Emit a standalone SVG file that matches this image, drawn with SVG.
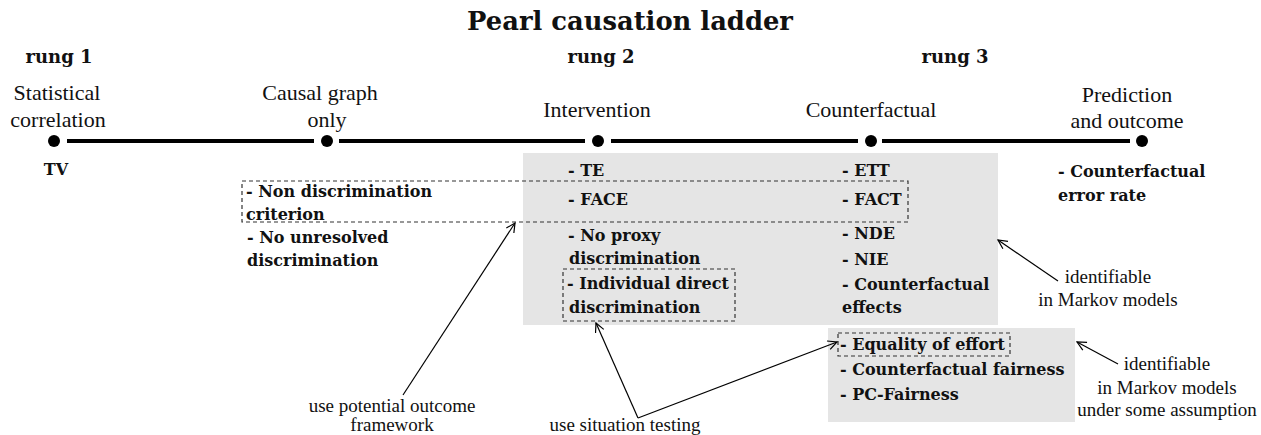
<svg xmlns="http://www.w3.org/2000/svg" width="1261" height="435" viewBox="0 0 1261 435">
<style>
.t{font-family:"Liberation Serif",serif;font-size:22px;fill:#111}
.a{font-family:"Liberation Serif",serif;font-size:19px;fill:#111}
.b{font-family:"DejaVu Serif",serif;font-weight:bold;font-size:16px;fill:#111}
.h{font-family:"DejaVu Serif",serif;font-weight:bold;font-size:18px;fill:#111}
.ln{stroke:#000;stroke-width:4;fill:none}
.dot{fill:#000}
.gray{fill:#e5e5e5}
.dash{fill:none;stroke:#333;stroke-width:1.2;stroke-dasharray:4 3}
.arr{stroke:#000;stroke-width:1.2;fill:none;marker-end:url(#ah)}
</style>
<defs>
<marker id="ah" markerWidth="12" markerHeight="12" refX="10" refY="5" orient="auto" markerUnits="userSpaceOnUse">
<path d="M1,0.5 L10,5 L1,9.5" fill="none" stroke="#000" stroke-width="1.2"/>
</marker>
</defs>
<rect width="1261" height="435" fill="#fff"/>
<text class="h" x="630" y="30" text-anchor="middle" style="font-size:25.8px">Pearl causation ladder</text>
<text class="h" x="59" y="63" text-anchor="middle">rung 1</text>
<text class="h" x="601" y="63" text-anchor="middle">rung 2</text>
<text class="h" x="955" y="63" text-anchor="middle">rung 3</text>
<g id="ladder">
<line class="ln" x1="67" y1="141" x2="314" y2="141"/>
<line class="ln" x1="339" y1="141" x2="585" y2="141"/>
<line class="ln" x1="611" y1="141" x2="858" y2="141"/>
<line class="ln" x1="882" y1="141" x2="1130" y2="141"/>
</g>
<g id="n-statistical">
<circle class="dot" cx="54" cy="141" r="6"/>
<text class="t" x="57" y="100" text-anchor="middle">Statistical</text>
<text class="t" x="58" y="127" text-anchor="middle">correlation</text>
<text class="b" x="56" y="175" text-anchor="middle">TV</text>
</g>
<g id="n-causal">
<circle class="dot" cx="327" cy="141" r="6"/>
<text class="t" x="320" y="100" text-anchor="middle">Causal graph</text>
<text class="t" x="327" y="127" text-anchor="middle">only</text>
<text class="b" x="247" y="243">- No unresolved</text>
<text class="b" x="247" y="266">discrimination</text>
</g>
<g id="n-intervention">
<circle class="dot" cx="598" cy="141" r="6"/>
<text class="t" x="597" y="117" text-anchor="middle">Intervention</text>
</g>
<g id="n-counterfactual">
<circle class="dot" cx="871" cy="141" r="6"/>
<text class="t" x="871" y="117" text-anchor="middle">Counterfactual</text>
</g>
<g id="n-prediction">
<circle class="dot" cx="1142" cy="141" r="6"/>
<text class="t" x="1127" y="102" text-anchor="middle">Prediction</text>
<text class="t" x="1127" y="128" text-anchor="middle">and outcome</text>
<text class="b" x="1058" y="177">- Counterfactual</text>
<text class="b" x="1058" y="201">error rate</text>
</g>
<g id="box-markov">
<rect class="gray" x="523" y="153" width="475" height="172"/>
<text class="b" x="568" y="176">- TE</text>
<text class="b" x="568" y="205">- FACE</text>
<text class="b" x="568" y="241">- No proxy</text>
<text class="b" x="569" y="264">discrimination</text>
<text class="b" x="567" y="289">- Individual direct</text>
<text class="b" x="569" y="313">discrimination</text>
<text class="b" x="842" y="176">- ETT</text>
<text class="b" x="842" y="205">- FACT</text>
<text class="b" x="842" y="239">- NDE</text>
<text class="b" x="842" y="265">- NIE</text>
<text class="b" x="842" y="290">- Counterfactual</text>
<text class="b" x="842" y="313">effects</text>
</g>
<g id="box-assumption">
<rect class="gray" x="828" y="328" width="247" height="94"/>
<text class="b" x="840" y="350">- Equality of effort</text>
<text class="b" x="840" y="375">- Counterfactual fairness</text>
<text class="b" x="840" y="400">- PC-Fairness</text>
</g>
<g id="dashed-groups">
<rect class="dash" x="242" y="181" width="666" height="41"/>
<text class="b" x="246" y="197">- Non discrimination</text>
<text class="b" x="246" y="220">criterion</text>
<rect class="dash" x="563" y="269" width="172" height="52"/>
<rect class="dash" x="838" y="333" width="172" height="23"/>
</g>
<g id="annotations">
<text class="a" x="1108" y="283" text-anchor="middle">identifiable</text>
<text class="a" x="1108" y="306" text-anchor="middle">in Markov models</text>
<text class="a" x="1167" y="370" text-anchor="middle">identifiable</text>
<text class="a" x="1167" y="394" text-anchor="middle">in Markov models</text>
<text class="a" x="1167" y="416" text-anchor="middle">under some assumption</text>
<text class="a" x="392" y="412" text-anchor="middle">use potential outcome</text>
<text class="a" x="392" y="431" text-anchor="middle">framework</text>
<text class="a" x="625" y="431" text-anchor="middle">use situation testing</text>
</g>
<g id="connectors">
<line class="arr" x1="1058" y1="281" x2="998" y2="240"/>
<line class="arr" x1="1118" y1="364" x2="1077" y2="342"/>
<line class="arr" x1="403" y1="395" x2="515" y2="223"/>
<line class="arr" x1="638" y1="418" x2="596" y2="323"/>
<line class="arr" x1="638" y1="418" x2="837" y2="342"/>
</g>
</svg>
